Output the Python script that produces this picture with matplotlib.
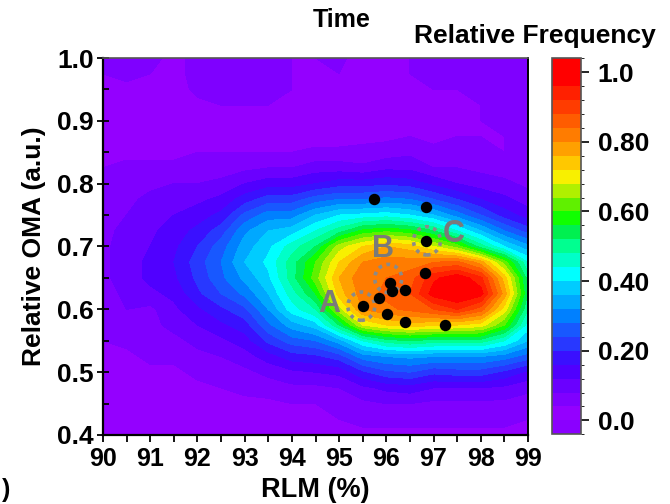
import numpy as np
import matplotlib
matplotlib.use("Agg")
import matplotlib.pyplot as plt
from matplotlib.colors import ListedColormap, BoundaryNorm
from matplotlib.patches import Ellipse
from matplotlib.ticker import MultipleLocator, FormatStrFormatter

plt.rcParams['font.family'] = ['Liberation Sans', 'DejaVu Sans']
plt.rcParams['font.weight'] = 'bold'

# Grid axes of the frequency map
rlm = [90, 90.5, 91, 91.5, 92, 92.5, 93, 93.5, 94, 94.5, 95, 95.5,
       96, 96.5, 97, 97.5, 98, 98.5, 99]
oma = [1.0, 0.975, 0.95, 0.925, 0.9, 0.875, 0.85, 0.825, 0.8, 0.775,
       0.75, 0.725, 0.7, 0.675, 0.65, 0.625, 0.6, 0.575, 0.55, 0.525,
       0.5, 0.475, 0.45, 0.425, 0.4]

# Relative frequency, one list per RLM column (OMA from 1.0 down to 0.4)
relative_frequency = [
    [0.05, 0.04, 0.03, 0.02, 0.02, 0.02, 0.03, 0.04, 0.05, 0.05, 0.06, 0.07, 0.07, 0.07, 0.07, 0.06, 0.06, 0.05, 0.04, 0.03, 0.02, 0.02, 0.02, 0.01, 0.01],
    [0.05, 0.05, 0.03, 0.02, 0.02, 0.02, 0.03, 0.05, 0.06, 0.07, 0.08, 0.09, 0.10, 0.10, 0.10, 0.09, 0.08, 0.06, 0.05, 0.03, 0.02, 0.02, 0.02, 0.02, 0.02],
    [0.05, 0.04, 0.02, 0.02, 0.02, 0.02, 0.03, 0.05, 0.07, 0.09, 0.10, 0.11, 0.12, 0.13, 0.13, 0.11, 0.07, 0.07, 0.06, 0.05, 0.03, 0.02, 0.02, 0.02, 0.02],
    [0.03, 0.03, 0.02, 0.02, 0.02, 0.02, 0.03, 0.05, 0.08, 0.10, 0.12, 0.14, 0.15, 0.16, 0.15, 0.13, 0.11, 0.09, 0.07, 0.05, 0.03, 0.02, 0.02, 0.02, 0.02],
    [0.05, 0.05, 0.05, 0.03, 0.02, 0.02, 0.04, 0.06, 0.08, 0.11, 0.14, 0.17, 0.20, 0.22, 0.21, 0.19, 0.15, 0.12, 0.09, 0.07, 0.05, 0.03, 0.02, 0.02, 0.02],
    [0.05, 0.05, 0.05, 0.04, 0.02, 0.02, 0.04, 0.06, 0.09, 0.13, 0.17, 0.22, 0.26, 0.28, 0.27, 0.24, 0.19, 0.15, 0.11, 0.08, 0.05, 0.04, 0.02, 0.02, 0.02],
    [0.05, 0.05, 0.05, 0.04, 0.02, 0.02, 0.04, 0.07, 0.12, 0.18, 0.25, 0.31, 0.34, 0.36, 0.33, 0.29, 0.23, 0.18, 0.14, 0.10, 0.07, 0.05, 0.03, 0.02, 0.02],
    [0.05, 0.05, 0.05, 0.04, 0.02, 0.02, 0.04, 0.08, 0.14, 0.22, 0.30, 0.36, 0.39, 0.41, 0.39, 0.36, 0.32, 0.27, 0.21, 0.14, 0.09, 0.06, 0.03, 0.02, 0.02],
    [0.04, 0.04, 0.04, 0.03, 0.02, 0.02, 0.04, 0.08, 0.14, 0.22, 0.30, 0.38, 0.46, 0.50, 0.50, 0.46, 0.42, 0.34, 0.26, 0.18, 0.11, 0.07, 0.04, 0.02, 0.02],
    [0.04, 0.04, 0.03, 0.02, 0.02, 0.02, 0.05, 0.10, 0.16, 0.26, 0.36, 0.44, 0.52, 0.60, 0.62, 0.56, 0.48, 0.38, 0.28, 0.19, 0.12, 0.07, 0.04, 0.03, 0.02],
    [0.05, 0.04, 0.03, 0.02, 0.02, 0.02, 0.05, 0.10, 0.18, 0.28, 0.40, 0.50, 0.66, 0.72, 0.76, 0.74, 0.66, 0.52, 0.34, 0.22, 0.13, 0.08, 0.05, 0.04, 0.03],
    [0.02, 0.02, 0.02, 0.02, 0.02, 0.03, 0.05, 0.09, 0.18, 0.28, 0.41, 0.57, 0.72, 0.80, 0.83, 0.82, 0.80, 0.68, 0.44, 0.30, 0.19, 0.11, 0.07, 0.05, 0.03],
    [0.02, 0.02, 0.02, 0.02, 0.02, 0.03, 0.06, 0.11, 0.19, 0.29, 0.42, 0.59, 0.76, 0.82, 0.84, 0.85, 0.83, 0.72, 0.50, 0.32, 0.23, 0.13, 0.08, 0.05, 0.03],
    [0.04, 0.04, 0.03, 0.02, 0.02, 0.04, 0.07, 0.11, 0.18, 0.28, 0.40, 0.57, 0.74, 0.82, 0.86, 0.88, 0.85, 0.74, 0.52, 0.33, 0.24, 0.14, 0.08, 0.05, 0.03],
    [0.05, 0.05, 0.04, 0.02, 0.02, 0.03, 0.05, 0.08, 0.15, 0.24, 0.36, 0.52, 0.68, 0.84, 0.95, 0.98, 0.88, 0.73, 0.50, 0.32, 0.21, 0.12, 0.07, 0.05, 0.03],
    [0.05, 0.05, 0.04, 0.04, 0.04, 0.04, 0.05, 0.08, 0.12, 0.20, 0.30, 0.44, 0.62, 0.85, 0.99, 1.01, 0.92, 0.72, 0.50, 0.32, 0.22, 0.12, 0.07, 0.05, 0.03],
    [0.05, 0.05, 0.05, 0.04, 0.04, 0.04, 0.05, 0.07, 0.10, 0.16, 0.24, 0.36, 0.50, 0.78, 0.93, 0.98, 0.86, 0.70, 0.50, 0.32, 0.22, 0.12, 0.07, 0.05, 0.03],
    [0.05, 0.05, 0.05, 0.05, 0.05, 0.04, 0.04, 0.06, 0.09, 0.13, 0.18, 0.28, 0.40, 0.62, 0.74, 0.78, 0.70, 0.60, 0.44, 0.30, 0.19, 0.11, 0.07, 0.05, 0.03],
    [0.05, 0.05, 0.05, 0.05, 0.05, 0.05, 0.05, 0.05, 0.07, 0.10, 0.14, 0.22, 0.33, 0.44, 0.50, 0.52, 0.48, 0.42, 0.36, 0.26, 0.15, 0.09, 0.06, 0.04, 0.03],
]

# Time-sampled measurements overlaid on the map
sample_rlm = [95.74, 96.84, 96.84, 96.81, 96.07, 96.13, 96.39, 95.84, 95.50, 96.01, 96.39, 97.25]
sample_oma = [0.775, 0.763, 0.709, 0.658, 0.642, 0.629, 0.631, 0.618, 0.605, 0.593, 0.580, 0.575]

# Highlighted samples
mark_names = ['A', 'B', 'C']
mark_rlm = [95.47, 96.04, 96.86]
mark_oma = [0.605, 0.649, 0.709]
label_rlm = [94.80, 95.92, 97.43]
label_oma = [0.609, 0.696, 0.720]

cbar_ticks = [0.0, 0.2, 0.4, 0.6, 0.8, 1.0]
cbar_ticklabels = ['0.0', '0.20', '0.40', '0.60', '0.80', '1.0']

levels = np.round(np.arange(-0.04, 1.0401, 0.04), 2)
band_colors = [
    '#8a00ff', '#9400ff', '#7f00ff', '#6a00ff', '#5000ff', '#3a10ff',
    '#2838ff', '#1858ff', '#0080ff', '#00a8ff', '#00ccff', '#00ffff',
    '#00ffc8', '#00ff90', '#00f050', '#10ff00', '#60f000', '#b0f000',
    '#f8f000', '#ffc800', '#ffa000', '#ff7c00', '#ff5c00', '#ff3c00',
    '#ff2000', '#ff0000', '#ff0000',
]
cmap = ListedColormap(band_colors)
norm = BoundaryNorm(levels, cmap.N)

Z = np.array(relative_frequency).T  # rows = OMA, cols = RLM
X, Y = np.meshgrid(rlm, oma)

fig = plt.figure(figsize=(6.7, 5.04), dpi=100)
ax = fig.add_axes([103 / 670, 1 - 435 / 504, 425 / 670, 377 / 504])

cs = ax.contourf(X, Y, Z, levels=levels, cmap=cmap, norm=norm, antialiased=False)

for mx, my in zip(mark_rlm, mark_oma):
    ax.add_patch(Ellipse((mx, my), 0.57, 0.045, fill=False, edgecolor='#8a8a8a',
                         linewidth=2.6, linestyle=(0, (1, 1.3)), zorder=3))

ax.plot(sample_rlm, sample_oma, 'o', color='black', markersize=7.2, zorder=4)

for name, lx, ly in zip(mark_names, label_rlm, label_oma):
    ax.text(lx, ly, name, color='#7a7a7a', fontsize=22, fontweight='bold',
            ha='center', va='center', zorder=5)

ax.set_xlim(90, 99)
ax.set_ylim(0.4, 1.0)
ax.xaxis.set_major_locator(MultipleLocator(1))
ax.xaxis.set_minor_locator(MultipleLocator(0.5))
ax.yaxis.set_major_locator(MultipleLocator(0.1))
ax.yaxis.set_minor_locator(MultipleLocator(0.05))
ax.yaxis.set_major_formatter(FormatStrFormatter('%.1f'))

ax.tick_params(axis='x', which='both', direction='out', length=5, width=1.3,
               labelsize=18, pad=4)
ax.tick_params(axis='y', which='major', direction='inout', length=9, width=1.3,
               labelsize=19, pad=2)
ax.tick_params(axis='y', which='minor', direction='in', length=4, width=1.3)
for lab in ax.get_xticklabels() + ax.get_yticklabels():
    lab.set_fontweight('bold')

for side in ['left', 'bottom']:
    ax.spines[side].set_linewidth(1.6)
    ax.spines[side].set_color('black')
ax.spines['right'].set_linewidth(1.4)
ax.spines['right'].set_color('black')
ax.spines['top'].set_linewidth(1.2)
ax.spines['top'].set_color('#555555')

fig.text(315 / 670, 1 - 490 / 504, 'RLM (%)', fontsize=19.5, fontweight='bold',
         ha='center', va='center')
fig.text(34 / 670, 1 - 246 / 504, 'Relative OMA (a.u.)', fontsize=19,
         fontweight='bold', rotation=90, ha='center', va='center')

cax = fig.add_axes([552 / 670, 1 - 434.3 / 504, 29 / 670, 376 / 504])
cb = fig.colorbar(cs, cax=cax, ticks=cbar_ticks)
cb.ax.set_yticklabels(cbar_ticklabels)
cb.ax.tick_params(direction='out', length=6, width=1.2, labelsize=19, pad=6)
for lab in cb.ax.get_yticklabels():
    lab.set_fontweight('bold')
cb.outline.set_edgecolor('#555555')
cb.outline.set_linewidth(1.2)

fig.text(341.5 / 670, 1 - 27 / 504, 'Time', fontsize=18, fontweight='bold',
         ha='center', va='baseline')
fig.text(535 / 670, 1 - 43 / 504, 'Relative Frequency', fontsize=19,
         fontweight='bold', ha='center', va='baseline')
fig.text(2 / 670, 1 - 490 / 504, ')', fontsize=18, fontweight='bold',
         ha='left', va='center')

fig.savefig('out.png', dpi=100)
